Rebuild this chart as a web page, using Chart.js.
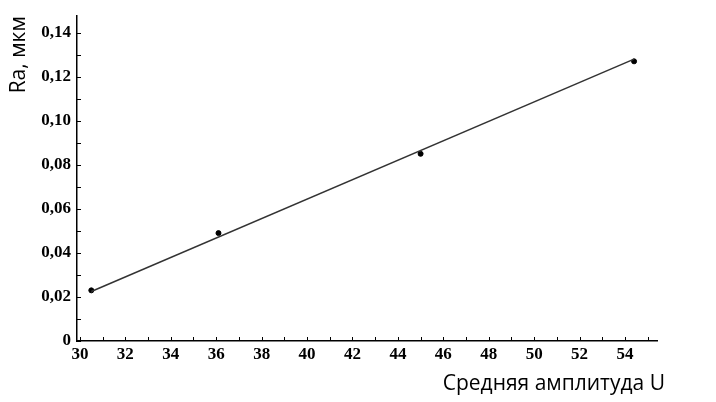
<!DOCTYPE html>
<html><head><meta charset="utf-8">
<script src="https://cdn.jsdelivr.net/npm/chart.js@4.4.1/dist/chart.umd.min.js"></script>
<style>html,body{margin:0;padding:0;background:#fff}#wrap{width:716px;height:402px}</style>
</head><body><div id="wrap"><canvas id="c" width="716" height="402"></canvas></div>
<script>
// Measured points
const amplitude = [30.5, 36.1, 45.0, 54.4];
const roughness = [0.023, 0.049, 0.085, 0.127];
// Fitted line endpoints
const fitX = [30.5, 54.4];
const fitY = [0.0225, 0.128];
// Tick labels
const xTickValues = [30, 32, 34, 36, 38, 40, 42, 44, 46, 48, 50, 52, 54];
const yTickValues = [0, 0.02, 0.04, 0.06, 0.08, 0.10, 0.12, 0.14];
const yTickLabels = ['0', '0,02', '0,04', '0,06', '0,08', '0,10', '0,12', '0,14'];
const xTitle = 'Средняя амплитуда U';
const yTitle = 'Ra, мкм';

const tickFont = {family: 'Liberation Serif', size: 17, weight: 'bold'};

const innerTicks = {
  id: 'innerTicks',
  afterDraw(chart) {
    const ctx = chart.ctx, xs = chart.scales.x, ys = chart.scales.y;
    ctx.save();
    ctx.strokeStyle = '#000';
    ctx.lineWidth = 1;
    ctx.beginPath();
    for (let v = Math.ceil(xs.min); v <= xs.max; v += 1) {
      const px = Math.round(xs.getPixelForValue(v)) + 0.5;
      ctx.moveTo(px, ys.bottom); ctx.lineTo(px, ys.bottom - 4);
    }
    for (let k = 0; k * 0.01 <= ys.max + 1e-9; k++) {
      const py = Math.round(ys.getPixelForValue(k * 0.01)) + 0.5;
      ctx.moveTo(xs.left, py); ctx.lineTo(xs.left + 4, py);
    }
    ctx.stroke();
    // x-axis title, right-aligned slightly past the axis end
    ctx.fillStyle = '#000';
    ctx.font = '21px "Open Sans"';
    ctx.textAlign = 'right';
    ctx.textBaseline = 'middle';
    ctx.fillText(xTitle, xs.right + 8, 384);
    ctx.restore();
  }
};

new Chart(document.getElementById('c'), {
  type: 'scatter',
  data: {
    datasets: [
      {
        type: 'line',
        data: fitX.map((x, i) => ({x, y: fitY[i]})),
        borderColor: '#333',
        borderWidth: 1.5,
        pointRadius: 0,
        fill: false
      },
      {
        data: amplitude.map((x, i) => ({x, y: roughness[i]})),
        backgroundColor: '#000',
        borderColor: '#000',
        pointRadius: 2.5,
        pointHoverRadius: 2.5
      }
    ]
  },
  options: {
    responsive: false,
    animation: false,
    devicePixelRatio: 1,
    layout: {padding: {left: 0, top: 12, right: 59, bottom: 0}},
    plugins: {legend: {display: false}, tooltip: {enabled: false}},
    scales: {
      x: {
        type: 'linear',
        min: 29.87, max: 55.41,
        afterBuildTicks(s) { s.ticks = xTickValues.map(v => ({value: v})); },
        afterFit(s) { s.height = 61; },
        grid: {display: true, drawOnChartArea: false, drawTicks: false},
        border: {display: true, color: '#000', width: 1.5},
        ticks: {color: '#000', font: tickFont, padding: 3, maxRotation: 0, autoSkip: false,
          callback: v => String(v)},
        title: {display: false}
      },
      y: {
        type: 'linear',
        min: 0, max: 0.1475,
        afterBuildTicks(s) { s.ticks = yTickValues.map(v => ({value: v})); },
        afterFit(s) { s.width = 77; },
        grid: {display: true, drawOnChartArea: false, drawTicks: false},
        border: {display: true, color: '#000', width: 1.5},
        ticks: {color: '#000', font: tickFont, padding: 6, autoSkip: false,
          callback: (v) => { const i = yTickValues.findIndex(t => Math.abs(t - v) < 1e-9); return i >= 0 ? yTickLabels[i] : ''; }},
        title: {display: true, text: yTitle, align: 'end', color: '#000',
          font: {family: 'Open Sans', size: 21}, padding: {top: 6, bottom: 0}}
      }
    }
  },
  plugins: [innerTicks]
});
</script>
</body></html>
